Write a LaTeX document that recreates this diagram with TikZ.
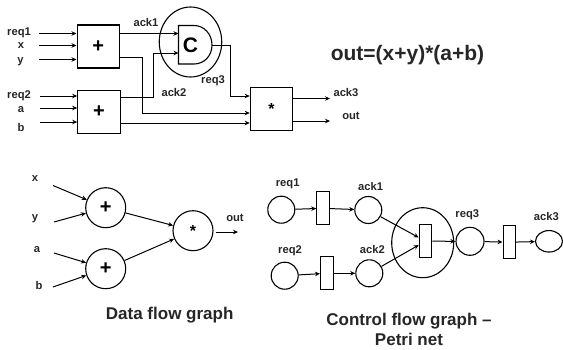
\documentclass[tikz,border=0pt]{standalone}
\usepackage{fontspec}
\setmainfont{Liberation Sans}
\usetikzlibrary{arrows.meta,shapes.geometric}
\tikzset{
 lab/.style={font=\bfseries\fontsize{11.2}{13}\selectfont,inner sep=0pt,text=black!85},
 title/.style={font=\bfseries\fontsize{17}{19}\selectfont,inner sep=0pt,text=black!85},
 opbox/.style={draw,line width=1.1pt,minimum width=42.5pt,minimum height=43pt,inner sep=0pt,font=\bfseries\fontsize{20}{22}\selectfont},
 opcirc/.style={draw,circle,line width=1.1pt,minimum size=40pt,inner sep=0pt,font=\bfseries\fontsize{20}{22}\selectfont},
 starfont/.style={font=\bfseries\fontsize{16}{18}\selectfont},
 place/.style={draw,ellipse,line width=1.1pt,minimum width=27pt,minimum height=27pt,inner sep=0pt},
 trans/.style={draw,line width=1.1pt,minimum width=12.5pt,minimum height=33pt,inner sep=0pt},
 ring/.style={draw,ellipse,line width=1.1pt,inner sep=0pt},
 wire/.style={line width=1pt,-{Stealth[length=5pt,width=4.5pt]}},
}
\begin{document}
\begin{tikzpicture}[x=1pt,y=-1pt]
\useasboundingbox (0,0) rectangle (563,349);
% top circuit
\node[opbox] (addA) at (98.3,46.5) {+};
\node[opbox] (addB) at (99,112) {+};
\node[opbox,starfont] (mul) at (271.5,109) {*};
\node[ring,minimum width=62.5pt,minimum height=70pt] (cring) at (190.5,42) {};
\coordinate (cNW) at (178.5,25.5);
\coordinate (cSW) at (178.5,64);
\coordinate (cOut) at (212,45);
\draw[line width=1.1pt] (cNW) -- (194,25.5) .. controls (204,25.5) and (212,34) .. (cOut) .. controls (212,56) and (204,64) .. (194,64) -- (cSW) -- cycle;
\node[font=\bfseries\fontsize{21}{23}\selectfont,inner sep=0pt] (cgate) at (190.5,45) {C};
\coordinate (cIn1) at (178.5,33.5);
\coordinate (cIn2) at (178.5,53);
\node[lab,anchor=west] (lreqA) at (7,32.5) {req1};
\node[lab] (lx) at (21,45.5) {x};
\node[lab] (ly) at (20.5,62) {y};
\node[lab,anchor=west] (lreqB) at (7,96) {req2};
\node[lab] (la) at (21,110) {a};
\node[lab] (lb) at (21,127) {b};
\node[lab] (lackA) at (146,22) {ack1};
\node[lab] (lackB) at (174,92.5) {ack2};
\node[lab] (lreqC) at (213,80.5) {req3};
\node[lab] (lackC) at (346,93) {ack3};
\node[lab] (lout) at (351,116) {out};
\node[font=\bfseries\fontsize{21}{23}\selectfont,inner sep=0pt,text=black!85] (eq) at (407.5,55) {out=(x+y)*(a+b)};
\coordinate (i1) at (39,33.5);
\coordinate (i2) at (39,45.5);
\coordinate (i3) at (39,59.5);
\coordinate (i4) at (40,96);
\coordinate (i5) at (40,108);
\coordinate (i6) at (40,122);
\draw[wire] (i1) -- (i1 -| addA.west);
\draw[wire] (i2) -- (i2 -| addA.west);
\draw[wire] (i3) -- (i3 -| addA.west);
\draw[wire] (i4) -- (i4 -| addB.west);
\draw[wire] (i5) -- (i5 -| addB.west);
\draw[wire] (i6) -- (i6 -| addB.west);
\draw[wire] (cIn1 -| addA.east) -- (cIn1);
\draw[wire] ([yshift=15pt]addB.east) -- (153,97) -- (153,53) -- (cIn2);
\draw[wire] ([yshift=-10.5pt]addA.east) -- (142,57) -- (142,113) -- (mul.west |- 0,113);
\draw[wire] ([yshift=-11pt]addB.east) -- (mul.west |- 0,123);
\draw[wire] (cOut) -- (230,45) -- (230,96) -- (mul.west |- 0,96);
\coordinate (oA) at (330,98.5);
\coordinate (oB) at (330,121);
\draw[wire] (mul.east |- oA) -- (oA);
\draw[wire] (mul.east |- oB) -- (oB);
% data flow graph
\node[opcirc] (dA) at (105.7,207.7) {+};
\node[opcirc] (dB) at (105.7,268.7) {+};
\node[opcirc,starfont] (dM) at (193,230.7) {*};
\node[lab] (dlx) at (35,179) {x};
\node[lab] (dly) at (35,219) {y};
\node[lab] (dla) at (37,250) {a};
\node[lab] (dlb) at (39,285) {b};
\node[lab] (dlo) at (235,218) {out};
\coordinate (dx) at (53,185.5);
\coordinate (dy) at (54,222);
\coordinate (da) at (54,253);
\coordinate (db) at (53,287);
\coordinate (dout) at (238,232);
\draw[wire] (dx) -- (dA);
\draw[wire] (dy) -- (dA);
\draw[wire] (da) -- (dB);
\draw[wire] (db) -- (dB);
\draw[wire] (dA) -- (dM);
\draw[wire] (dB) -- (dM);
\draw[wire] (dM.east |- dout) ++(2,0) -- (dout);
\node[title] (dt) at (169.7,315.5) {Data flow graph};
% petri net
\node[place] (pA) at (281.3,209.7) {};
\node[trans] (tA) at (323,208.3) {};
\node[place] (pB) at (368.3,210) {};
\node[place] (pC) at (284.7,275.7) {};
\node[trans] (tB) at (326.8,273.3) {};
\node[place] (pD) at (369.3,273.3) {};
\node[ring,minimum width=62pt,minimum height=70pt] (pring) at (422.7,242.7) {};
\node[trans] (tC) at (425.5,241.2) {};
\node[place,minimum width=28pt,minimum height=28pt] (pE) at (470,241.3) {};
\node[trans] (tD) at (509.3,242.2) {};
\node[place,minimum height=21.5pt] (pF) at (549,241.3) {};
\node[lab] (plA) at (287.7,184.3) {req1};
\node[lab] (plB) at (370.7,186) {ack1};
\node[lab] (plC) at (290,250.3) {req2};
\node[lab] (plD) at (372.3,249.3) {ack2};
\node[lab] (plE) at (467.3,215) {req3};
\node[lab] (plF) at (546.3,216) {ack3};
\draw[wire] (pA) -- (tA);
\draw[wire] (tA) -- (pB);
\draw[wire] (pC) -- (tB);
\draw[wire] (tB) -- (pD);
\draw[wire] (pB) -- (tC);
\draw[wire] (pD) -- (tC);
\draw[wire] (tC) -- (pE);
\draw[wire] (pE) -- (tD);
\draw[wire] (tD) -- (pF);
\node[title] (ptA) at (409,321) {Control flow graph –};
\node[title] (ptB) at (409,339.5) {Petri net};
\end{tikzpicture}
\end{document}
